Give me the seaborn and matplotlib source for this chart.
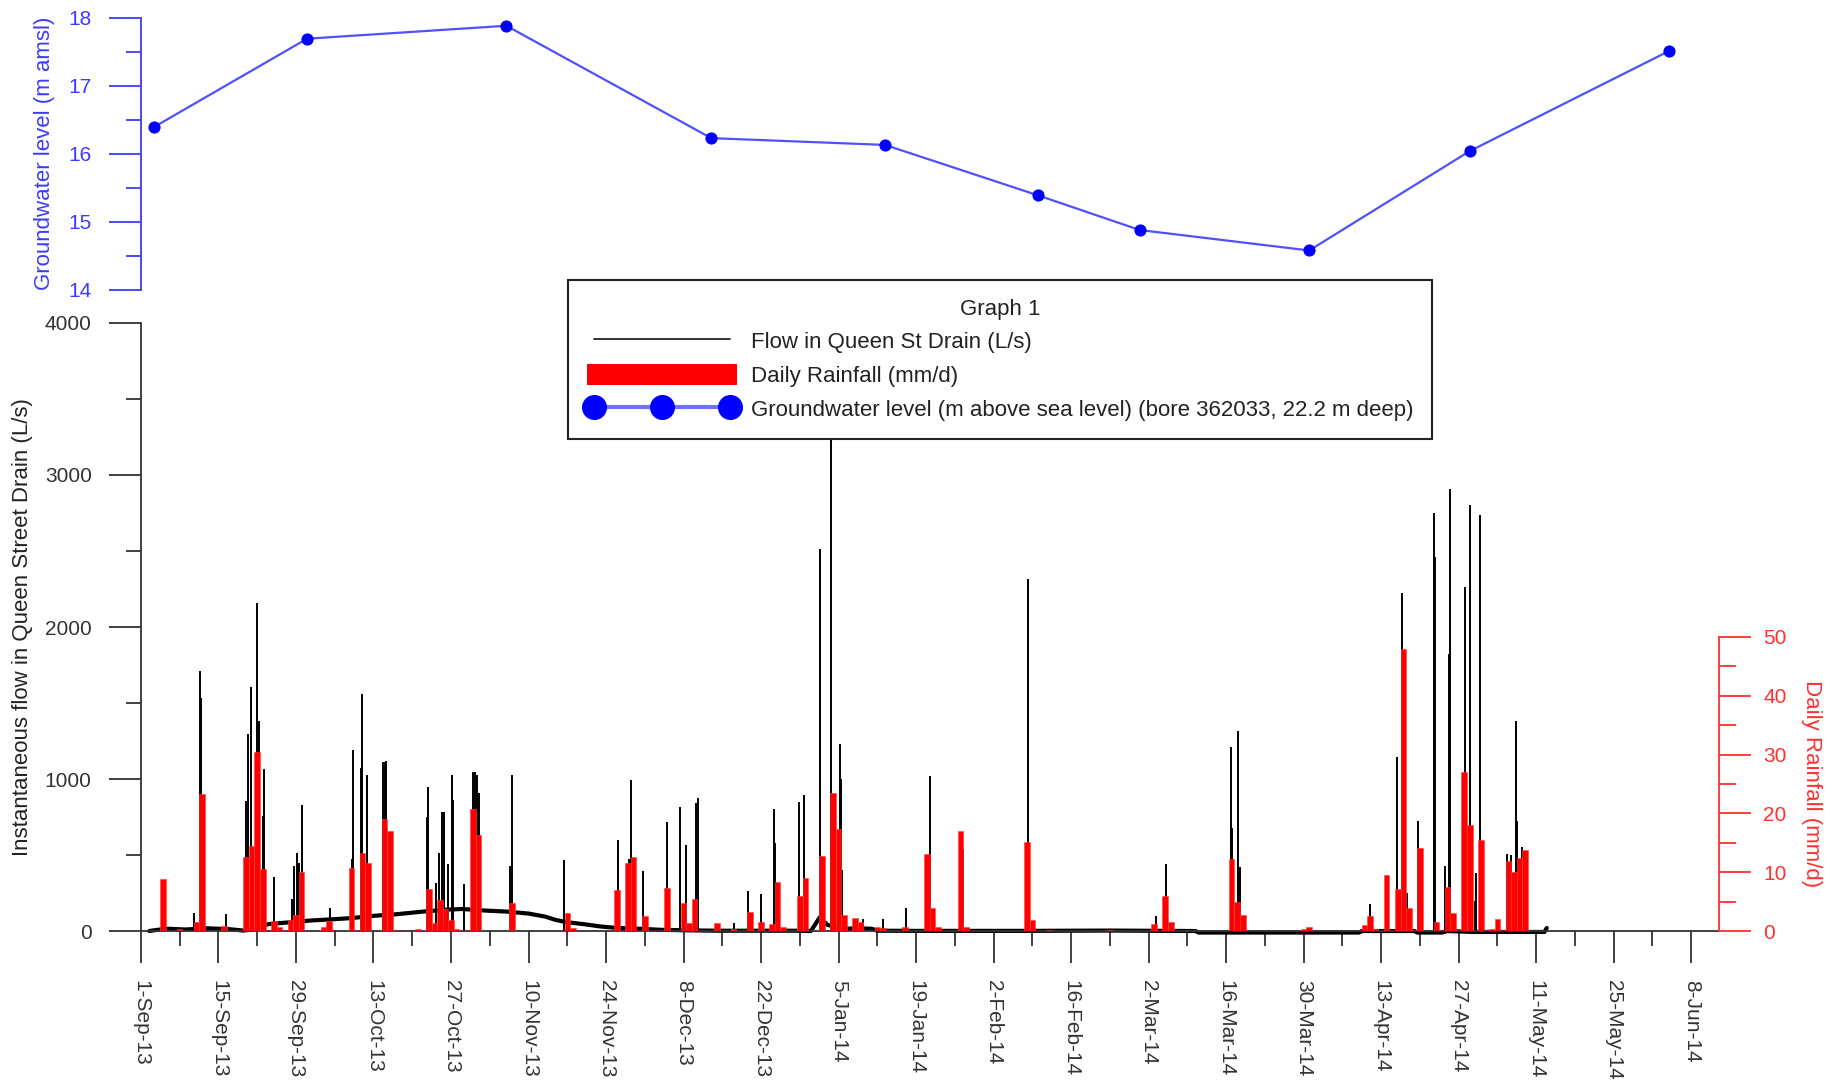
import numpy as np
import matplotlib
matplotlib.use("Agg")
import matplotlib.pyplot as plt
from matplotlib.lines import Line2D
from matplotlib.patches import Patch
from matplotlib.ticker import MultipleLocator, FixedLocator
import seaborn as sns

# ---------------- data (x = days since 1-Sep-2013) ----------------
tick_labels = ["1-Sep-13", "15-Sep-13", "29-Sep-13", "13-Oct-13", "27-Oct-13",
               "10-Nov-13", "24-Nov-13", "8-Dec-13", "22-Dec-13", "5-Jan-14",
               "19-Jan-14", "2-Feb-14", "16-Feb-14", "2-Mar-14", "16-Mar-14",
               "30-Mar-14", "13-Apr-14", "27-Apr-14", "11-May-14", "25-May-14",
               "8-Jun-14"]

gw_days = [2.3, 30, 66, 103, 134.4, 162, 180.4, 211, 240, 276]
gw_level = [16.39, 17.69, 17.88, 16.23, 16.13, 15.39, 14.88, 14.58, 16.04, 17.51]

rain_days = [4, 7, 10, 11, 15, 19, 20, 21, 22, 24, 25, 27, 28, 29, 33, 34, 38, 40,
             41, 44, 45, 50, 52, 53, 54, 55, 56, 57, 60, 61, 67, 77, 78, 86, 88,
             89, 91, 95, 98, 99, 100, 104, 107, 110, 112, 114, 115, 116, 119, 120,
             123, 125, 126, 127, 129, 130, 133, 134, 138, 142, 143, 144, 148, 149,
             160, 161, 164, 175, 183, 185, 186, 197, 198, 199, 210, 211, 221, 222,
             223, 225, 227, 228, 229, 231, 234, 236, 237, 239, 240, 242, 244, 245,
             247, 248, 249, 250]
rain_mm = [8.9, 0.3, 1.6, 23.3, 0.9, 12.6, 14.4, 30.5, 10.6, 1.7, 0.7, 1.9, 2.7,
           10.0, 0.7, 1.7, 10.8, 13.2, 11.6, 19.0, 17.0, 0.3, 7.2, 1.4, 5.2, 3.7,
           1.9, 0.4, 20.8, 16.3, 4.8, 3.0, 0.5, 7.0, 11.5, 12.6, 2.5, 7.4, 4.7,
           1.3, 5.5, 1.3, 0.3, 3.2, 1.5, 1.2, 8.4, 0.7, 6.0, 9.0, 12.8, 23.5, 17.4,
           2.7, 2.3, 1.6, 0.6, 0.5, 0.7, 13.1, 4.0, 0.6, 17.0, 0.6, 15.2, 1.8,
           0.2, 0.2, 1.2, 5.9, 1.6, 12.2, 4.9, 2.8, 0.4, 0.7, 1.0, 2.6, 0.3, 9.5,
           7.1, 48.0, 3.9, 14.1, 1.5, 7.5, 3.1, 27.0, 18.0, 15.5, 0.4, 2.1, 11.9,
           10.1, 12.5, 13.75]

base_days = [1.5, 3, 5, 8, 12, 16, 18.5, 20, 23, 27, 31, 35, 38, 42, 46, 51, 55,
             58, 62, 66, 70, 73, 75, 77, 80, 83, 86, 90, 94, 98, 104, 112, 118,
             121, 122.6, 124, 127, 129.5, 132, 133, 140, 160, 175, 185, 190.5,
             191, 220, 220.5, 230, 230.5, 235, 236, 240.5, 253.5, 253.9]
base_flow = [0, 8, 15, 10, 18, 12, 3, 10, 45, 58, 70, 78, 85, 100, 110, 128, 140,
             145, 135, 128, 115, 95, 72, 58, 45, 30, 20, 15, 8, 5, 2, 2, 2,
             0, 90, 40, 15, 18, 15, 2, 1, 1, 3, 1, 0,
             -10, -10, 0, 0, -10, -10, 0, -6, -6, 20]

spike_days = [9.6, 10.65, 10.9, 15.3, 19.0, 19.4, 19.9, 21.0, 21.3, 22.0, 22.2,
              24.1, 27.2, 27.6, 28.2, 28.6, 29.1, 34.2, 38.1, 38.3, 39.7, 40.0,
              40.9, 43.8, 44.1, 44.3, 51.7, 51.8, 53.3, 53.8, 54.4, 54.8, 55.5,
              56.1, 56.4, 58.3, 59.9, 60.3, 60.7, 61.1, 66.7, 67.1, 76.4, 86.1,
              88.1, 88.5, 90.7, 95.0, 97.3, 98.5, 100.2, 100.6, 107.1, 109.7,
              112.0, 114.4, 114.6, 118.9, 119.7, 122.6, 124.7, 126.2, 126.4,
              126.7, 130.4, 134.1, 138.2, 142.5, 148.1, 148.5, 160.3, 183.3,
              185.1, 196.8, 197.0, 198.2, 198.5, 222.0, 226.9, 227.8, 228.6,
              230.7, 233.6, 233.8, 235.6, 236.2, 236.5, 239.1, 240.0, 240.9,
              241.2, 241.9, 246.7, 247.4, 248.3, 248.5, 249.4]
spike_flow = [117, 1711, 1531, 111, 857, 1295, 1606, 2161, 1384, 755, 1068,
              358, 208, 427, 513, 449, 829, 150, 477, 1193, 1074, 1559,
              1026, 1115, 1115, 1120, 749, 949, 319, 513, 782, 782, 444,
              1026, 865, 311, 1046, 1046, 1026, 907, 427, 1026, 469, 596,
              477, 996, 394, 714, 819, 567, 841, 874, 55, 264,
              242, 802, 578, 852, 892, 2510, 3700, 1230, 999,
              402, 77, 77, 149, 1021, 650, 538, 2313, 99,
              441, 1210, 676, 1313, 424, 176, 1143, 2224, 248,
              721, 2747, 2462, 429, 1824, 2905, 2264, 2802, 198,
              380, 2736, 510, 499, 1380, 721, 554]

legend_labels = ["Flow in Queen St Drain (L/s)",
                 "Daily Rainfall (mm/d)",
                 "Groundwater level (m above sea level) (bore 362033, 22.2 m deep)"]

# ---------------- style ----------------
sns.set_theme(style="white")
plt.rcParams["font.family"] = ["Liberation Sans", "DejaVu Sans"]

GRAY = "#333333"
BLUE = "#3b3bff"
RED = "#ff3030"

fig = plt.figure(figsize=(18.4, 10.86), dpi=100)
ax = fig.add_axes([0.0766, 0.1427, 0.8576, 0.5599])
ax_gw = fig.add_axes([0.0766, 0.7330, 0.8576, 0.2508])
ax2 = ax.twinx()

# ---------------- flow (left axis) ----------------
ax.vlines(spike_days, 0, spike_flow, colors="black", linewidth=1.4)
sns.lineplot(x=base_days, y=base_flow, ax=ax, color="black", linewidth=3.0,
             estimator=None, sort=False, clip_on=False)
ax.set_xlim(0, 285)
ax.set_ylim(0, 4000)
ax.yaxis.set_major_locator(MultipleLocator(1000))
ax.yaxis.set_minor_locator(MultipleLocator(500))
ax.xaxis.set_major_locator(FixedLocator(list(range(0, 281, 14))))
ax.xaxis.set_minor_locator(MultipleLocator(7))
ax.set_xticklabels(tick_labels, rotation=270, ha="center", va="top")
ax.tick_params(which="major", direction="out", length=23, width=1.3, pad=12.5,
               labelsize=15, colors=GRAY, left=True, bottom=True)
ax.tick_params(which="minor", direction="out", length=11, width=1.3,
               colors=GRAY, left=True, bottom=True)
for s in ["top", "right"]:
    ax.spines[s].set_visible(False)
for s in ["left", "bottom"]:
    ax.spines[s].set_color(GRAY)
    ax.spines[s].set_linewidth(1.3)
ax.set_xlabel("")
ax.set_ylabel("Instantaneous flow in Queen Street Drain (L/s)", fontsize=16,
              color="#222222")
ax.yaxis.set_label_coords(-0.0684, 0.5)

# ---------------- rainfall (right axis) ----------------
ax2.bar(rain_days, rain_mm, width=1.0, color="#ff0000", edgecolor="#ff4040",
        linewidth=0.4)
ax2.set_ylim(0, 103.4)
ax2.yaxis.set_major_locator(FixedLocator([0, 10, 20, 30, 40, 50]))
ax2.yaxis.set_minor_locator(FixedLocator([5, 15, 25, 35, 45]))
ax2.tick_params(axis="y", which="major", direction="out", length=23, width=1.3,
                pad=9, labelsize=15, colors=RED, right=True, left=False)
ax2.tick_params(axis="y", which="minor", direction="out", length=12, width=1.3,
                colors=RED, right=True, left=False)
for s in ["top", "left", "bottom"]:
    ax2.spines[s].set_visible(False)
ax2.spines["right"].set_color(RED)
ax2.spines["right"].set_linewidth(1.3)
ax2.spines["right"].set_bounds(0, 50)
ax2.set_ylabel("Daily Rainfall (mm/d)", fontsize=16, color=RED,
               rotation=270, va="bottom")
ax2.yaxis.set_label_coords(1.052, 25 / 103.4)

# ---------------- groundwater (top axis) ----------------
sns.lineplot(x=gw_days, y=gw_level, ax=ax_gw, color="#5050ff", linewidth=1.6,
             marker="o", markersize=8, markerfacecolor="#0000ff",
             markeredgecolor="#0000ff", estimator=None, clip_on=False)
ax_gw.set_xlim(0, 285)
ax_gw.set_ylim(14, 18)
ax_gw.patch.set_alpha(0)
ax_gw.yaxis.set_major_locator(MultipleLocator(1))
ax_gw.yaxis.set_minor_locator(MultipleLocator(0.5))
ax_gw.tick_params(axis="y", which="major", direction="out", length=23, width=1.3,
                  pad=12.5, labelsize=15, colors=BLUE, left=True)
ax_gw.tick_params(axis="y", which="minor", direction="out", length=11, width=1.3,
                  colors=BLUE, left=True)
ax_gw.tick_params(axis="x", which="both", bottom=False, labelbottom=False)
for s in ["top", "right", "bottom"]:
    ax_gw.spines[s].set_visible(False)
ax_gw.spines["left"].set_color(BLUE)
ax_gw.spines["left"].set_linewidth(1.3)
ax_gw.set_xlabel("")
ax_gw.set_ylabel("Groundwater level (m amsl)", fontsize=16, color=BLUE)
ax_gw.yaxis.set_label_coords(-0.0545, 0.5)

# ---------------- legend ----------------
handles = [
    Line2D([], [], color="#222222", linewidth=1.3),
    Patch(facecolor="#ff0000", edgecolor="none"),
    Line2D([], [], color="#7070ff", linewidth=3, marker="o", markersize=17,
           markerfacecolor="#0000ff", markeredgecolor="#0000ff"),
]
leg = fig.legend(handles, legend_labels, loc="upper left",
                 bbox_to_anchor=(0.3087, 0.5948, 0.4696, 0.1474), mode="expand",
                 title="Graph 1", fontsize=16, title_fontsize=16, frameon=True,
                 fancybox=False, edgecolor="#222222", framealpha=1,
                 borderpad=0.85, labelspacing=0.48, handlelength=6.75,
                 handletextpad=0.62, handleheight=1.05, numpoints=3,
                 borderaxespad=0)
leg.get_frame().set_linewidth(1.5)
for t in leg.get_texts():
    t.set_color("#222222")
leg.get_title().set_color("#222222")

fig.savefig("out.png", dpi=100)
